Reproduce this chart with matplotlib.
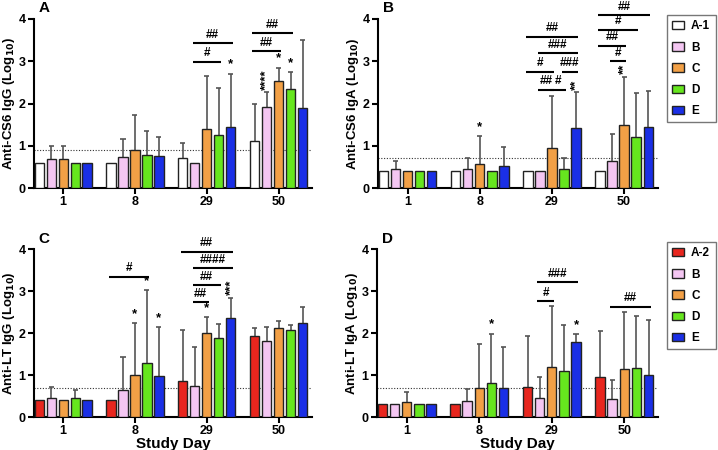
import numpy as np
import matplotlib
matplotlib.use("Agg")
import matplotlib.pyplot as plt
from matplotlib.patches import Patch

plt.rcParams['font.family'] = ['Liberation Sans', 'DejaVu Sans']
plt.rcParams['font.weight'] = 'bold'
plt.rcParams['mathtext.default'] = 'bf'

days = ['1', '8', '29', '50']
groups_top = ['A-1', 'B', 'C', 'D', 'E']
groups_bot = ['A-2', 'B', 'C', 'D', 'E']
colors_top = ['#ffffff', '#f4c6f2', '#f2a046', '#66e61e', '#1a2fe6']
colors_bot = ['#e8261e', '#f4c6f2', '#f2a046', '#66e61e', '#1a2fe6']

# values[series][day], err = top of error bar (nan = none)
cs6_igg = [[0.60, 0.60, 0.72, 1.12],
           [0.68, 0.74, 0.60, 1.91],
           [0.68, 0.90, 1.40, 2.54],
           [0.60, 0.78, 1.25, 2.35],
           [0.60, 0.75, 1.45, 1.89]]
cs6_igg_err = [[np.nan, np.nan, 1.07, 1.98],
               [0.99, 1.17, np.nan, 2.27],
               [0.99, 1.73, 2.65, 2.85],
               [np.nan, 1.36, 2.37, 2.75],
               [np.nan, 1.21, 2.70, 3.50]]
cs6_iga = [[0.40, 0.40, 0.40, 0.40],
           [0.45, 0.46, 0.40, 0.65],
           [0.40, 0.57, 0.95, 1.50],
           [0.40, 0.40, 0.46, 1.20],
           [0.40, 0.53, 1.41, 1.45]]
cs6_iga_err = [[np.nan, np.nan, np.nan, np.nan],
               [0.65, 0.71, np.nan, 1.29],
               [np.nan, 1.23, 2.18, 2.63],
               [np.nan, np.nan, 0.71, 2.24],
               [np.nan, 0.97, 2.27, 2.29]]
lt_igg = [[0.40, 0.40, 0.86, 1.94],
          [0.46, 0.65, 0.73, 1.82],
          [0.40, 1.00, 2.00, 2.13],
          [0.45, 1.29, 1.88, 2.08],
          [0.40, 0.98, 2.37, 2.25]]
lt_igg_err = [[np.nan, np.nan, 2.08, 2.12],
              [0.71, 1.42, 1.68, 2.14],
              [np.nan, 2.23, 2.38, 2.30],
              [0.64, 3.02, 2.22, 2.20],
              [np.nan, 2.15, 2.84, 2.61]]
lt_iga = [[0.30, 0.30, 0.71, 0.95],
          [0.30, 0.37, 0.45, 0.44],
          [0.36, 0.70, 1.20, 1.15],
          [0.30, 0.82, 1.10, 1.16],
          [0.30, 0.70, 1.78, 1.00]]
lt_iga_err = [[np.nan, np.nan, 1.94, 2.05],
              [np.nan, 0.66, 0.95, 0.88],
              [0.60, 1.75, 2.65, 2.50],
              [np.nan, 1.99, 2.20, 2.40],
              [np.nan, 1.68, 1.97, 2.32]]

# (day, series, text, y)
stars_a = [(2, 4, '*', 2.78), (3, 1, '****', 2.33), (3, 2, '*', 2.92), (3, 3, '*', 2.82)]
stars_b = [(1, 2, '*', 1.30), (2, 4, '**', 2.33), (3, 2, '**', 2.69)]
stars_c = [(1, 2, '*', 2.30), (1, 3, '*', 3.09), (1, 4, '*', 2.22),
           (2, 2, '*', 2.45), (2, 4, '***', 2.91)]
stars_d = [(1, 3, '*', 2.06), (2, 4, '*', 2.04)]

# (day, from series, to series, y, text)
brackets_a = [(2, 1, 3, 2.99, '#'), (2, 1, 4, 3.42, '##'),
              (3, 0, 2, 3.24, '##'), (3, 0, 3, 3.66, '##')]
brackets_b = [(2, 0, 4, 3.58, '##'), (2, 1, 4, 3.19, '###'),
              (2, 0, 2, 2.75, '#'), (2, 3, 4, 2.75, '###'),
              (2, 1, 2, 2.32, '##'), (2, 2, 3, 2.32, '#'),
              (3, 0, 4, 4.09, '##'), (3, 0, 3, 3.74, '#'),
              (3, 0, 2, 3.36, '##'), (3, 1, 2, 3.00, '#')]
brackets_c = [(1, 0, 3, 3.34, '#'), (2, 0, 4, 3.94, '##'),
              (2, 1, 4, 3.54, '####'), (2, 1, 3, 3.14, '##'),
              (2, 1, 2, 2.73, '##')]
brackets_d = [(2, 1, 4, 3.21, '###'), (2, 1, 2, 2.76, '#'),
              (3, 1, 4, 2.63, '##')]

pitch = 0.167
width = 0.13


def xpos(d, s):
    return d + (s - 2) * pitch


def draw_panel(ax, vals, errs, colors, cutoff, stars, brackets, ylabel, letter, xlabel):
    for s in range(5):
        xs = [xpos(d, s) for d in range(4)]
        ax.bar(xs, vals[s], width=width, color=colors[s], edgecolor='#222222',
               linewidth=1.0, zorder=3)
        for d in range(4):
            e = errs[s][d]
            if not np.isnan(e):
                ax.vlines(xs[d], vals[s][d], e, color='#555555', lw=1.2, zorder=2)
                ax.hlines(e, xs[d] - 0.035, xs[d] + 0.035, color='#555555', lw=1.2, zorder=2)
    ax.axhline(cutoff, color='#333333', lw=0.8, ls=(0, (1, 1.5)), zorder=1)
    for d, s, t, y in stars:
        rot = 0 if len(t) == 1 else 90
        ax.text(xpos(d, s), y, t, ha='center', va='bottom', fontsize=9.5,
                fontweight='bold', rotation=rot, clip_on=False)
    for d, s1, s2, y, t in brackets:
        x1 = xpos(d, s1) - 0.03
        x2 = xpos(d, s2) + 0.03
        ax.plot([x1, x2], [y, y], color='black', lw=1.5, clip_on=False,
                solid_capstyle='butt')
        ax.text((x1 + x2) / 2, y + 0.06, t, ha='center', va='bottom',
                fontsize=8.5, fontweight='bold', clip_on=False)
    ax.set_xlim(-0.41, 3.47)
    ax.set_ylim(0, 4)
    ax.set_yticks([0, 1, 2, 3, 4])
    ax.set_xticks(range(4))
    ax.set_xticklabels(days)
    ax.spines['top'].set_visible(False)
    ax.spines['right'].set_visible(False)
    ax.spines['left'].set_linewidth(1.5)
    ax.spines['bottom'].set_linewidth(1.5)
    ax.tick_params(width=1.5, length=4, labelsize=9, pad=2)
    for lab in ax.get_xticklabels() + ax.get_yticklabels():
        lab.set_fontweight('bold')
    ax.set_ylabel(ylabel, fontsize=9.5, fontweight='bold', labelpad=1)
    if xlabel:
        ax.set_xlabel('Study Day', fontsize=11, fontweight='bold', labelpad=0)
    ax.text(0.018, 1.105, letter, transform=ax.transAxes, fontsize=11,
            fontweight='bold', ha='left', va='top')


fig = plt.figure(figsize=(7.18, 4.5), dpi=100)
ax_a = fig.add_axes([0.047, 0.582, 0.388, 0.376])
ax_b = fig.add_axes([0.5265, 0.582, 0.39, 0.376])
ax_c = fig.add_axes([0.047, 0.0733, 0.388, 0.373])
ax_d = fig.add_axes([0.525, 0.0733, 0.392, 0.373])

draw_panel(ax_a, cs6_igg, cs6_igg_err, colors_top, 0.9, stars_a, brackets_a,
           'Anti-CS6 IgG (Log$_{10}$)', 'A', False)
draw_panel(ax_b, cs6_iga, cs6_iga_err, colors_top, 0.7, stars_b, brackets_b,
           'Anti-CS6 IgA (Log$_{10}$)', 'B', False)
draw_panel(ax_c, lt_igg, lt_igg_err, colors_bot, 0.7, stars_c, brackets_c,
           'Anti-LT IgG (Log$_{10}$)', 'C', True)
draw_panel(ax_d, lt_iga, lt_iga_err, colors_bot, 0.7, stars_d, brackets_d,
           'Anti-LT IgA (Log$_{10}$)', 'D', True)

for names, cols, anchor in [(groups_top, colors_top, (667 / 718, 1 - 15 / 450)),
                            (groups_bot, colors_bot, (667 / 718, 1 - 242 / 450))]:
    handles = [Patch(facecolor=c, edgecolor='#222222', linewidth=1.0) for c in cols]
    leg = fig.legend(handles, names, loc='upper left', bbox_to_anchor=anchor,
                     frameon=True, fancybox=False, fontsize=8.5, handlelength=1.0,
                     handleheight=0.7, handletextpad=0.6, labelspacing=0.78,
                     borderpad=0.45, borderaxespad=0)
    leg.get_frame().set_edgecolor('#555555')
    leg.get_frame().set_linewidth(1.0)
    for t in leg.get_texts():
        t.set_fontweight('bold')

fig.savefig('out.png', dpi=100)
